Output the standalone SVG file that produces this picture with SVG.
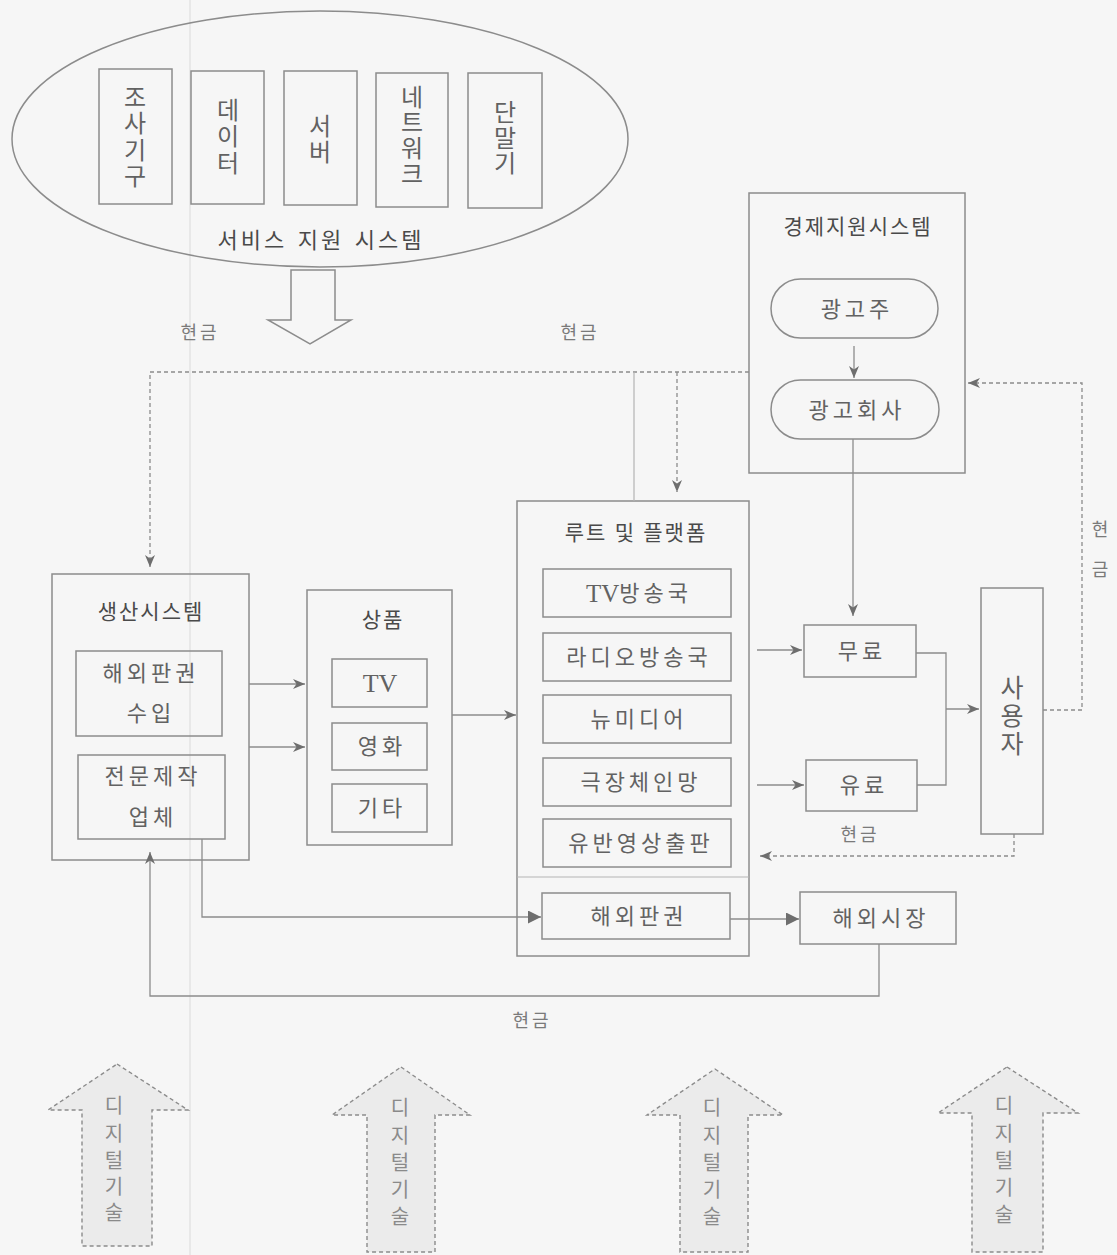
<svg xmlns="http://www.w3.org/2000/svg" width="1117" height="1255" viewBox="0 0 1117 1255">
<defs>
<style>
.bg{fill:#f6f6f6}
.box{fill:none;stroke:#8c8c8c;stroke-width:1.5}
.ln{fill:none;stroke:#8c8c8c;stroke-width:1.3}
.lt{fill:none;stroke:#b4b4b4;stroke-width:1.2}
.dash{stroke-dasharray:4 3}
.t{font-family:"Liberation Serif","Noto Sans CJK KR",serif;fill:#626262;font-size:22px;letter-spacing:4px;text-anchor:middle;dominant-baseline:central}
.ti{fill:#4a4a4a;font-size:21px;letter-spacing:2px}
.cash{fill:#7a7a7a;font-size:18px;letter-spacing:3px}
.vt{letter-spacing:0;font-size:24px}
.dig{fill:#8a8a8a;font-size:20px;letter-spacing:0}
.arr{fill:#ebebeb;stroke:#8c8c8c;stroke-width:1.4;stroke-dasharray:4 3}
</style>
<marker id="chev" viewBox="0 0 12 10" markerWidth="12" markerHeight="10" refX="12" refY="5" orient="auto" markerUnits="userSpaceOnUse">
<path d="M0,0 L12,5 L0,10 L3.5,5 Z" fill="#6e6e6e"/>
</marker>
<marker id="tri" viewBox="0 0 12 12" markerWidth="13" markerHeight="13" refX="12" refY="6" orient="auto" markerUnits="userSpaceOnUse">
<path d="M0,0 L12,6 L0,12 Z" fill="#6e6e6e"/>
</marker>
</defs>
<rect class="bg" x="0" y="0" width="1117" height="1255"/>
<line x1="190" y1="0" x2="190" y2="1255" stroke="#dadada" stroke-width="1"/>

<g id="service-support">
<ellipse class="box" cx="320" cy="139" rx="308" ry="128"/>
<rect class="box" x="99" y="69" width="73" height="135"/>
<text class="t vt"><tspan x="135" y="98">조</tspan><tspan x="135" y="124">사</tspan><tspan x="135" y="151">기</tspan><tspan x="135" y="177">구</tspan></text>
<rect class="box" x="191" y="71" width="73" height="133"/>
<text class="t vt"><tspan x="228" y="111">데</tspan><tspan x="228" y="137">이</tspan><tspan x="228" y="164">터</tspan></text>
<rect class="box" x="284" y="71" width="73" height="134"/>
<text class="t vt"><tspan x="320" y="127">서</tspan><tspan x="320" y="153">버</tspan></text>
<rect class="box" x="376" y="73" width="72" height="134"/>
<text class="t vt"><tspan x="412" y="98">네</tspan><tspan x="412" y="123">트</tspan><tspan x="412" y="149">워</tspan><tspan x="412" y="175">크</tspan></text>
<rect class="box" x="468" y="73" width="74" height="135"/>
<text class="t vt"><tspan x="505" y="113">단</tspan><tspan x="505" y="139">말</tspan><tspan x="505" y="164">기</tspan></text>
<text class="t ti" x="321" y="240" style="font-size:22px;letter-spacing:3px;word-spacing:2px">서비스 지원 시스템</text>
<polygon class="box" style="fill:#f6f6f6" points="291,270 335,270 335,320 351,320 310,344 268,320 291,320"/>
</g>

<g id="economic-support">
<rect class="box" x="749" y="193" width="216" height="280"/>
<text class="t ti" x="858" y="227">경제지원시스템</text>
<rect class="box" x="771" y="279" width="167" height="59" rx="29.5"/>
<text class="t" x="857" y="309">광고주</text>
<rect class="box" x="771" y="380" width="168" height="59" rx="29.5"/>
<text class="t" x="857" y="410">광고회사</text>
</g>

<g id="production">
<rect class="box" x="52" y="574" width="197" height="286"/>
<text class="t ti" x="151" y="612">생산시스템</text>
<rect class="box" x="76" y="651" width="146" height="85"/>
<text class="t" x="151" y="673">해외판권</text>
<text class="t" x="151" y="713">수입</text>
<rect class="box" x="78" y="755" width="147" height="84"/>
<text class="t" x="153" y="776">전문제작</text>
<text class="t" x="153" y="817">업체</text>
</g>

<g id="goods">
<rect class="box" x="307" y="590" width="145" height="255"/>
<text class="t ti" x="383" y="620">상품</text>
<rect class="box" x="332" y="659" width="95" height="48"/>
<text class="t" x="380" y="683" style="font-size:26px;letter-spacing:0">TV</text>
<rect class="box" x="332" y="723" width="95" height="47"/>
<text class="t" x="382" y="746">영화</text>
<rect class="box" x="332" y="784" width="95" height="48"/>
<text class="t" x="382" y="808">기타</text>
</g>

<g id="route-platform">
<rect class="box" x="517" y="501" width="232" height="455"/>
<text class="t ti" x="636" y="533" style="word-spacing:0px">루트 및 플랫폼</text>
<rect class="box" x="543" y="569" width="188" height="48"/>
<text class="t" x="639" y="593"><tspan style="font-size:25px;letter-spacing:0">TV</tspan>방송국</text>
<rect class="box" x="543" y="633" width="188" height="48"/>
<text class="t" x="639" y="657">라디오방송국</text>
<rect class="box" x="543" y="695" width="188" height="48"/>
<text class="t" x="639" y="719">뉴미디어</text>
<rect class="box" x="543" y="758" width="188" height="48"/>
<text class="t" x="641" y="782">극장체인망</text>
<rect class="box" x="543" y="819" width="188" height="48"/>
<text class="t" x="641" y="843">유반영상출판</text>
<line class="lt" x1="517" y1="877" x2="749" y2="877"/>
<rect class="box" x="542" y="893" width="188" height="46"/>
<text class="t" x="639" y="916">해외판권</text>
</g>

<g id="free">
<rect class="box" x="804" y="625" width="112" height="52"/>
<text class="t" x="862" y="651">무료</text>
</g>
<g id="paid">
<rect class="box" x="806" y="760" width="111" height="51"/>
<text class="t" x="864" y="785">유료</text>
</g>
<g id="user">
<rect class="box" x="981" y="588" width="62" height="246"/>
<text class="t vt" style="font-size:25px"><tspan x="1012" y="688">사</tspan><tspan x="1012" y="716">용</tspan><tspan x="1012" y="744">자</tspan></text>
</g>
<g id="overseas-market">
<rect class="box" x="800" y="892" width="156" height="52"/>
<text class="t" x="881" y="918">해외시장</text>
</g>

<g id="digital-tech">
<polygon class="arr" points="117,1064 188,1110 152,1110 152,1246 82,1246 82,1110 48,1110"/>
<text class="t dig"><tspan x="114" y="1106">디</tspan><tspan x="114" y="1134">지</tspan><tspan x="114" y="1161">털</tspan><tspan x="114" y="1187">기</tspan><tspan x="114" y="1213">술</tspan></text>
<polygon class="arr" points="401,1067 470,1115 435,1115 435,1252 367,1252 367,1115 332,1115"/>
<text class="t dig"><tspan x="400" y="1108">디</tspan><tspan x="400" y="1136">지</tspan><tspan x="400" y="1163">털</tspan><tspan x="400" y="1190">기</tspan><tspan x="400" y="1217">술</tspan></text>
<polygon class="arr" points="715,1069 783,1115 748,1115 748,1252 680,1252 680,1115 647,1115"/>
<text class="t dig"><tspan x="712" y="1108">디</tspan><tspan x="712" y="1136">지</tspan><tspan x="712" y="1163">털</tspan><tspan x="712" y="1190">기</tspan><tspan x="712" y="1217">술</tspan></text>
<polygon class="arr" points="1007,1067 1078,1113 1043,1113 1043,1252 972,1252 972,1113 938,1113"/>
<text class="t dig"><tspan x="1004" y="1106">디</tspan><tspan x="1004" y="1134">지</tspan><tspan x="1004" y="1161">털</tspan><tspan x="1004" y="1188">기</tspan><tspan x="1004" y="1215">술</tspan></text>
</g>

<g id="connectors">
<line class="ln" x1="854" y1="346" x2="854" y2="378" marker-end="url(#chev)"/>
<line class="ln" x1="853" y1="439" x2="853" y2="616" marker-end="url(#chev)"/>
<line class="ln" x1="249" y1="684" x2="305" y2="684" marker-end="url(#chev)"/>
<line class="ln" x1="249" y1="747" x2="305" y2="747" marker-end="url(#chev)"/>
<line class="ln" x1="452" y1="715" x2="516" y2="715" marker-end="url(#chev)"/>
<line class="ln" x1="757" y1="650" x2="802" y2="650" marker-end="url(#chev)"/>
<line class="ln" x1="757" y1="785" x2="804" y2="785" marker-end="url(#chev)"/>
<polyline class="ln" points="916,653 946,653 946,785 917,785"/>
<line class="ln" x1="946" y1="709" x2="979" y2="709" marker-end="url(#chev)"/>
<polyline class="ln dash" points="1014,834 1014,856 760,856" marker-end="url(#chev)"/>
<polyline class="ln dash" points="1043,710 1082,710 1082,383 968,383" marker-end="url(#chev)"/>
<polyline class="ln dash" points="749,372 150,372 150,567" marker-end="url(#chev)"/>
<line class="ln dash" x1="677" y1="372" x2="677" y2="492" marker-end="url(#chev)"/>
<line class="lt" x1="634" y1="372" x2="634" y2="501"/>
<polyline class="ln" points="202,839 202,917 541,917" marker-end="url(#tri)"/>
<line class="ln" x1="730" y1="919" x2="799" y2="919" marker-end="url(#tri)"/>
<polyline class="ln" points="879,944 879,996 150,996 150,852" marker-end="url(#chev)"/>
<text class="t cash" x="200" y="333">현금</text>
<text class="t cash" x="580" y="333">현금</text>
<text class="t cash" x="860" y="835">현금</text>
<text class="t cash" x="532" y="1021">현금</text>
<text class="t cash" style="letter-spacing:0"><tspan x="1100" y="530">현</tspan><tspan x="1100" y="570">금</tspan></text>
</g>
</svg>
